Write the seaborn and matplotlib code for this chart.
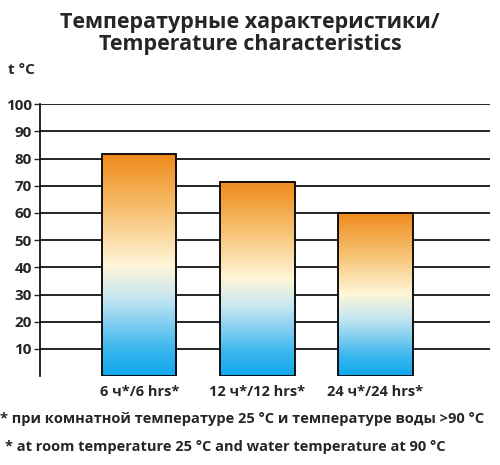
import numpy as np
import pandas as pd
import matplotlib
matplotlib.use("Agg")
import matplotlib.pyplot as plt
from matplotlib.colors import LinearSegmentedColormap
import seaborn as sns

sns.set_style("white")
plt.rcParams['font.family'] = ['Open Sans', 'DejaVu Sans']

categories = ['6 ч*/6 hrs*', '12 ч*/12 hrs*', '24 ч*/24 hrs*']
temps = [81.6, 71.4, 60.0]
yticks = [10, 20, 30, 40, 50, 60, 70, 80, 90, 100]

df = pd.DataFrame({'period': categories, 'temp': temps})

fig = plt.figure(figsize=(5, 4.65), dpi=100)
ax = fig.add_axes([0.08, 0.191, 0.90, 0.585])
sns.barplot(data=df, x='period', y='temp', ax=ax, width=0.63,
            color='white', edgecolor='black', linewidth=1.3, zorder=3)

cmap = LinearSegmentedColormap.from_list('g', [
    (0.0, '#10a8ec'), (0.12, '#3ab6ee'), (0.35, '#c6e6f2'),
    (0.5, '#fff6d8'), (0.75, '#f7c070'), (1.0, '#ee8a1a')])
grad = np.linspace(0, 1, 256).reshape(-1, 1)
for p in list(ax.patches):
    p.set_facecolor('none')
    x0, y0 = p.get_x(), p.get_y()
    w, h = p.get_width(), p.get_height()
    im = ax.imshow(grad, cmap=cmap, origin='lower', aspect='auto',
                   extent=[x0, x0 + w, y0, y0 + h], zorder=2.5)

ax.set_xlim(-0.84, 2.97)
ax.set_ylim(0, 100)
ax.set_aspect('auto')
ax.set_yticks(yticks)
ax.set_yticklabels([str(t) for t in yticks], fontsize=11, fontweight='bold')
ax.tick_params(axis='x', labelsize=10.5, length=0, pad=6)
for lab in ax.get_xticklabels():
    lab.set_fontweight('bold')
ax.tick_params(axis='y', length=4, width=1, direction='out', left=True, pad=2)
ax.yaxis.grid(True, color='black', linewidth=1.2, zorder=0)
ax.set_axisbelow(True)
for s in ['top', 'right', 'bottom']:
    ax.spines[s].set_visible(False)
ax.spines['left'].set_color('black')
ax.spines['left'].set_linewidth(1.2)
ax.set_xlabel('')
ax.set_ylabel('')

fig.text(0.5, 0.975, 'Температурные характеристики/\nTemperature characteristics',
         ha='center', va='top', fontsize=15.5, fontweight='bold', linespacing=1.1)
fig.text(0.015, 0.84, 't °C', fontsize=11, fontweight='bold')
fig.text(0.0, 0.09, '* при комнатной температуре 25 °С и температуре воды >90 °С',
         fontsize=10.5, fontweight='bold')
fig.text(0.01, 0.03, '* at room temperature 25 °C and water temperature at 90 °C',
         fontsize=10.5, fontweight='bold')

fig.savefig('out.png', dpi=100)
